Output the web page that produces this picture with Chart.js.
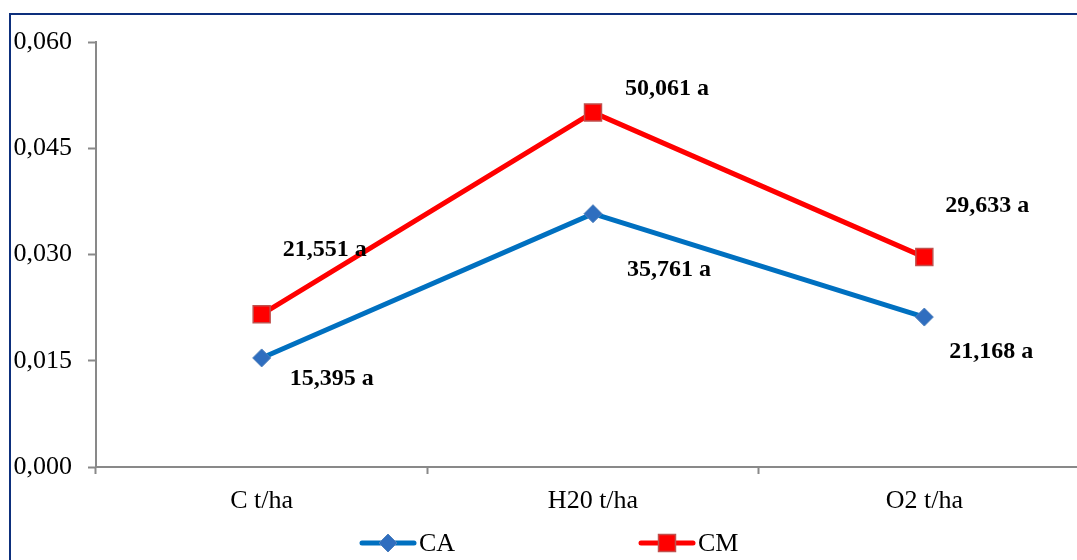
<!DOCTYPE html>
<html>
<head>
<meta charset="utf-8">
<script src="https://cdn.jsdelivr.net/npm/chart.js@4/dist/chart.umd.min.js"></script>
<style>
  html, body { margin: 0; padding: 0; background: #ffffff; overflow: hidden; width: 1077px; height: 560px; }
  #wrap { position: absolute; left: 0; top: 0; width: 1110px; height: 560px; }
</style>
</head>
<body>
<div id="wrap"><canvas id="c" width="1110" height="560"></canvas></div>
<script>
// Categories and series values
const categories = ['C t/ha', 'H20 t/ha', 'O2 t/ha'];
const seriesNames = ['CA', 'CM'];
const caValues = [0.015395, 0.035761, 0.021168];
const cmValues = [0.021551, 0.050061, 0.029633];
const caLetters = ['a', 'a', 'a'];
const cmLetters = ['a', 'a', 'a'];

// Value axis
const yMin = 0;
const yMax = 0.060;
const yStep = 0.015;

const SERIF = '"Liberation Serif", "Times New Roman", serif';
const AXIS_GRAY = '#898989';

const fmtTick = v => v.toFixed(3).replace('.', ',');
const fmtLabel = (v, letter) => (v * 1000).toFixed(3).replace('.', ',') + ' ' + letter;

// Outer frame of the chart box
const framePlugin = {
  id: 'frame',
  beforeDraw(chart) {
    const ctx = chart.ctx;
    ctx.save();
    ctx.fillStyle = '#ffffff';
    ctx.fillRect(0, 0, chart.width, chart.height);
    ctx.strokeStyle = '#0d2f7c';
    ctx.lineWidth = 2;
    ctx.strokeRect(10, 14, chart.width + 50, chart.height + 50);
    ctx.restore();
  }
};

// Value labels written next to each point
const valueLabelPlugin = {
  id: 'valueLabels',
  afterDatasetsDraw(chart, args, opts) {
    const ctx = chart.ctx;
    ctx.save();
    ctx.font = 'bold 24px ' + SERIF;
    ctx.fillStyle = '#000000';
    ctx.textAlign = 'center';
    ctx.textBaseline = 'middle';
    chart.data.datasets.forEach((ds, di) => {
      const meta = chart.getDatasetMeta(di);
      const offs = opts.offsets[di];
      meta.data.forEach((pt, i) => {
        const txt = fmtLabel(ds.data[i], ds.letters[i]);
        ctx.fillText(txt, pt.x + offs[i][0], pt.y + offs[i][1]);
      });
    });
    ctx.restore();
  }
};

// Legend: line with marker, then series name
const lineLegendPlugin = {
  id: 'lineLegend',
  afterDraw(chart, args, opts) {
    const ctx = chart.ctx;
    const y = opts.y;
    chart.data.datasets.forEach((ds, di) => {
      const x0 = opts.starts[di];
      const x1 = x0 + opts.lineLength;
      ctx.save();
      ctx.strokeStyle = ds.borderColor;
      ctx.lineWidth = ds.borderWidth;
      ctx.lineCap = 'round';
      ctx.beginPath();
      ctx.moveTo(x0, y);
      ctx.lineTo(x1, y);
      ctx.stroke();
      ctx.restore();
      ctx.save();
      ctx.fillStyle = ds.pointBackgroundColor;
      ctx.strokeStyle = ds.pointBorderColor;
      ctx.lineWidth = ds.pointBorderWidth;
      Chart.helpers.drawPoint(ctx, {
        pointStyle: ds.pointStyle,
        radius: ds.pointRadius,
        rotation: 0,
        borderWidth: ds.pointBorderWidth
      }, (x0 + x1) / 2, y);
      ctx.restore();
      ctx.save();
      ctx.font = '26px ' + SERIF;
      ctx.fillStyle = '#000000';
      ctx.textAlign = 'left';
      ctx.textBaseline = 'middle';
      ctx.fillText(ds.label, x1 + opts.textGap, y + 1);
      ctx.restore();
    });
  }
};

new Chart(document.getElementById('c'), {
  type: 'line',
  data: {
    labels: categories,
    datasets: [
      {
        label: seriesNames[0],
        data: caValues,
        letters: caLetters,
        borderColor: '#0070c0',
        borderWidth: 5,
        pointStyle: 'rectRot',
        pointRadius: 9,
        pointHoverRadius: 9,
        pointBackgroundColor: '#2f6ebf',
        pointBorderColor: '#4f81bd',
        pointBorderWidth: 1,
        tension: 0,
        fill: false
      },
      {
        label: seriesNames[1],
        data: cmValues,
        letters: cmLetters,
        borderColor: '#ff0000',
        borderWidth: 5,
        pointStyle: 'rect',
        pointRadius: 12,
        pointHoverRadius: 12,
        pointBackgroundColor: '#ff0000',
        pointBorderColor: '#c0504d',
        pointBorderWidth: 1.5,
        tension: 0,
        fill: false
      }
    ]
  },
  options: {
    responsive: false,
    animation: false,
    devicePixelRatio: 1,
    events: [],
    layout: { padding: { left: 0, top: 42, right: 20, bottom: 48 } },
    scales: {
      x: {
        type: 'category',
        offset: true,
        grid: {
          offset: true,
          display: true,
          drawOnChartArea: false,
          drawTicks: true,
          tickLength: 7,
          tickWidth: 2,
          color: AXIS_GRAY
        },
        border: { display: true, color: AXIS_GRAY, width: 2 },
        ticks: {
          color: '#000000',
          font: { family: SERIF, size: 26 },
          padding: 12,
          maxRotation: 0,
          autoSkip: false
        },
        afterFit(scale) { scale.height = 45; }
      },
      y: {
        min: yMin,
        max: yMax,
        grid: {
          display: true,
          drawOnChartArea: false,
          drawTicks: true,
          tickLength: 8,
          tickWidth: 2,
          color: AXIS_GRAY
        },
        border: { display: true, color: AXIS_GRAY, width: 2 },
        ticks: {
          stepSize: yStep,
          color: '#000000',
          font: { family: SERIF, size: 26 },
          padding: 16,
          callback: v => fmtTick(v)
        },
        afterFit(scale) { scale.width = 96; }
      }
    },
    plugins: {
      legend: { display: false },
      tooltip: { enabled: false },
      valueLabels: {
        offsets: [
          [[70, 21], [76, 56], [67, 35]],
          [[63, -65], [74, -24], [63, -51]]
        ]
      },
      lineLegend: { y: 543, starts: [362, 641], lineLength: 52, textGap: 5 }
    }
  },
  plugins: [framePlugin, valueLabelPlugin, lineLegendPlugin]
});
</script>
</body>
</html>
